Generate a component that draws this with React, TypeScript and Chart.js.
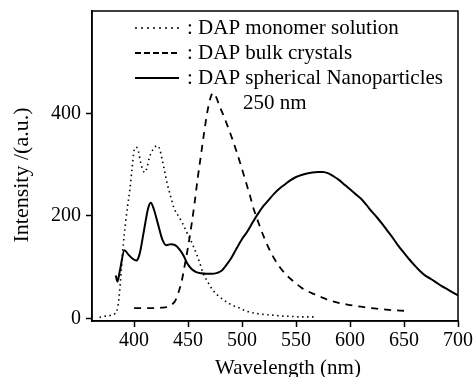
import React, { useEffect, useRef } from "react";
import { Chart, registerables } from "chart.js";

Chart.register(...registerables);

const FONT = "'Liberation Serif', 'Times New Roman', serif";

// DAP monomer solution (dotted)
const monomerWavelength = [368, 372, 376, 380, 382, 384, 386, 388, 390, 392, 394, 396, 398, 400, 402, 404, 406, 408, 410, 412, 414, 417, 420, 422, 424, 426, 428, 431, 434, 437, 441, 445, 449, 452, 455, 458, 461, 464, 468, 473, 478, 483, 488, 493, 498, 503, 508, 515, 525, 535, 545, 555, 567];
const monomerIntensity = [2, 4, 5, 7, 9, 14, 40, 90, 145, 185, 220, 250, 290, 328, 334, 326, 305, 290, 285, 295, 313, 328, 336, 337, 328, 310, 290, 260, 237, 215, 200, 185, 167, 155, 140, 125, 107, 88, 72, 55, 44, 36, 29, 24, 20, 15, 12, 9, 7, 5, 4, 3, 3];

// DAP bulk crystals (dashed)
const bulkWavelength = [400, 405, 410, 415, 420, 425, 430, 434, 438, 441, 444, 447, 450, 453, 456, 459, 462, 465, 468, 471, 473, 476, 479, 483, 487, 491, 495, 499, 503, 507, 511, 515, 520, 525, 530, 535, 540, 545, 550, 555, 560, 565, 570, 575, 580, 585, 590, 595, 600, 610, 620, 630, 640, 650];
const bulkIntensity = [20, 20, 20, 20, 20, 21, 22, 26, 34, 50, 72, 105, 140, 180, 225, 275, 320, 365, 405, 432, 440, 432, 415, 395, 373, 350, 325, 298, 270, 242, 212, 188, 160, 136, 116, 100, 87, 77, 68, 60, 54, 49, 45, 40, 36, 33, 30, 28, 26, 23, 20, 18, 16, 15];

// DAP spherical nanoparticles 250 nm (solid)
const nanoWavelength = [383, 384.5, 387, 391, 395, 399, 402, 405, 409, 413, 415.5, 418, 422, 426, 430, 434, 438, 442, 446, 449, 453, 457, 462, 467, 472, 477, 481, 485, 490, 495, 500, 505, 510, 515, 520, 525, 530, 535, 540, 545, 550, 555, 560, 565, 570, 575, 580, 585, 590, 595, 600, 605, 610, 615, 620, 625, 630, 635, 640, 645, 650, 655, 660, 665, 670, 675, 680, 685, 690, 695, 700];
const nanoIntensity = [84, 72, 95, 133, 124, 116, 113, 125, 170, 215, 226, 215, 185, 155, 143, 145, 143, 135, 122, 108, 97, 91, 88, 87, 87, 89, 93, 103, 118, 137, 155, 170, 188, 205, 220, 232, 244, 254, 262, 270, 276, 280, 283, 285, 286, 286, 283, 277, 270, 261, 252, 243, 234, 222, 209, 197, 184, 170, 156, 141, 128, 115, 103, 92, 83, 77, 70, 63, 57, 51, 45];

const seriesLabels = ["DAP monomer solution", "DAP bulk crystals", "DAP spherical Nanoparticles"];
const sizeNote = "250 nm";
const xTicks = [400, 450, 500, 550, 600, 650, 700];
const yTicks = [0, 200, 400];
const xTitle = "Wavelength (nm)";
const yTitle = "Intensity /(a.u.)";

const toPoints = (xs: number[], ys: number[]) => xs.map((x, i) => ({ x, y: ys[i] }));

const dashes = [[1.5, 3.5], [7, 6], []];
const legendDashes = [[2, 4], [6, 3], []];
const widths = [1.6, 1.8, 2];

const framePlugin = {
  id: "frameLegend",
  afterDatasetsDraw(chart: any) {
    const { ctx, chartArea: a } = chart;
    ctx.save();
    ctx.strokeStyle = "#000";
    ctx.lineWidth = 1.5;
    ctx.setLineDash([]);
    ctx.strokeRect(a.left, a.top, a.right - a.left, a.bottom - a.top);

    const x0 = a.left + 43;
    const x1 = a.left + 87;
    const tx = a.left + 95;
    ctx.font = `21px ${FONT}`;
    ctx.fillStyle = "#000";
    ctx.textBaseline = "middle";
    ctx.textAlign = "left";
    chart.data.datasets.forEach((ds: any, i: number) => {
      const y = a.top + 17 + i * 25;
      ctx.beginPath();
      ctx.setLineDash(legendDashes[i]);
      ctx.lineWidth = widths[i];
      ctx.moveTo(x0, y);
      ctx.lineTo(x1, y);
      ctx.stroke();
      ctx.setLineDash([]);
      ctx.fillText(": " + ds.label, tx, y);
    });
    ctx.fillText(sizeNote, a.left + 151, a.top + 92);

    // axis titles
    ctx.textAlign = "center";
    ctx.font = `21px ${FONT}`;
    ctx.fillText(xTitle, a.left + 196, a.bottom + 47);
    ctx.translate(22, a.top + 164);
    ctx.rotate(-Math.PI / 2);
    ctx.font = `22px ${FONT}`;
    ctx.fillText(yTitle, 0, 0);
    ctx.restore();
  },
};

export default function App() {
  const ref = useRef<HTMLCanvasElement | null>(null);
  useEffect(() => {
    if (!ref.current) return;
    const series = [
      toPoints(monomerWavelength, monomerIntensity),
      toPoints(bulkWavelength, bulkIntensity),
      toPoints(nanoWavelength, nanoIntensity),
    ];
    const chart = new Chart(ref.current, {
      type: "line",
      data: {
        datasets: series.map((d, i) => ({
          label: seriesLabels[i],
          data: d,
          borderColor: "#000",
          borderWidth: widths[i],
          borderDash: dashes[i],
          pointRadius: 0,
          fill: false,
          cubicInterpolationMode: "monotone" as const,
        })),
      },
      options: {
        animation: false,
        responsive: false,
        devicePixelRatio: 1,
        layout: { padding: { top: 11, right: 17, bottom: 0, left: 0 } },
        plugins: { legend: { display: false }, tooltip: { enabled: false } },
        scales: {
          x: {
            type: "linear",
            min: 361,
            max: 700,
            afterFit: (s: any) => { s.height = 56; s.paddingLeft = 0; s.paddingRight = 0; },
            afterBuildTicks: (s: any) => { s.ticks = xTicks.map((v) => ({ value: v })); },
            grid: { drawOnChartArea: false, tickLength: 6, tickColor: "#000", tickWidth: 1.5 },
            border: { display: true, color: "#000", width: 1.5 },
            ticks: { color: "#000", font: { family: FONT, size: 20 }, padding: 2, maxRotation: 0 },
          },
          y: {
            type: "linear",
            min: -5,
            max: 600,
            afterFit: (s: any) => { s.width = 92; s.paddingTop = 0; s.paddingBottom = 0; },
            afterBuildTicks: (s: any) => { s.ticks = yTicks.map((v) => ({ value: v })); },
            grid: { drawOnChartArea: false, tickLength: 6, tickColor: "#000", tickWidth: 1.5 },
            border: { display: true, color: "#000", width: 1.5 },
            ticks: { color: "#000", font: { family: FONT, size: 20 }, padding: 5 },
          },
        },
      },
      plugins: [framePlugin],
    });
    return () => chart.destroy();
  }, []);
  return (
    <div style={{ position: "fixed", left: 0, top: 0, width: 475, height: 377, background: "#fff" }}>
      <canvas ref={ref} width={475} height={377} style={{ display: "block" }} />
    </div>
  );
}
